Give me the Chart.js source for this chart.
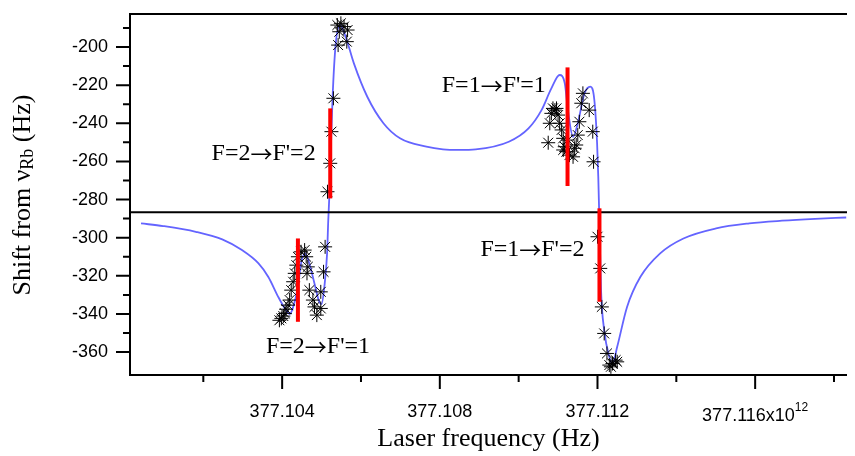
<!DOCTYPE html>
<html>
<head>
<meta charset="utf-8">
<script src="https://cdn.jsdelivr.net/npm/chart.js@4.4.1/dist/chart.umd.min.js"></script>
<style>
    body { margin: 0; background: #fff; }
    #wrap { width: 855px; height: 456px; }
</style>
</head>
<body>
<div id="wrap"><canvas id="shiftChart"></canvas></div>
<script>
// Frequencies in units of 10^12 Hz, shifts in Hz
const curveFreq = [
    377.10042, 377.10098, 377.10181, 377.10248, 377.10298, 377.10340, 377.10365, 377.10390,
    377.10407, 377.10419, 377.10428, 377.10440, 377.10448, 377.10458, 377.10469, 377.10482,
    377.10494, 377.10500, 377.10507, 377.10514, 377.10517, 377.10520, 377.10524, 377.10528,
    377.10536, 377.10547, 377.10561, 377.10582, 377.10616, 377.10657, 377.10699, 377.10766,
    377.10808, 377.10849, 377.10891, 377.10975, 377.11025, 377.11058, 377.11083, 377.11104,
    377.11117, 377.11125, 377.11138, 377.11150, 377.11167, 377.11182, 377.11192, 377.11199,
    377.11202, 377.11205, 377.11209, 377.11217, 377.11230, 377.11238, 377.11250, 377.11275,
    377.11309, 377.11359, 377.11418, 377.11501, 377.11585, 377.11668, 377.11752, 377.11831
];
const curveShift = [
    -292.5, -293.9, -296.9, -300.9, -306.5, -313.5, -320.6, -331.0,
    -337.1, -340.0, -336.3, -325.8, -313.5, -308.2, -313.5, -324.0,
    -333.6, -334.8, -325.8, -308.2, -290.8, -276.8, -250.5, -226.1,
    -198.1, -188.5, -194.6, -208.6, -226.1, -240.0, -247.9, -252.3,
    -253.7, -254.0, -253.7, -249.7, -242.7, -233.1, -221.7, -214.7,
    -219.0, -233.1, -247.1, -240.0, -224.3, -220.8, -227.8, -250.5,
    -268.0, -293.0, -327.5, -348.5, -362.5, -366.0, -357.2, -336.3,
    -320.5, -308.2, -300.4, -295.1, -292.5, -291.1, -290.1, -289.4
];

// measured points
const measFreq = [
    377.10393, 377.10398, 377.10403, 377.10407, 377.10410, 377.10415, 377.10419, 377.10423,
    377.10428, 377.10432, 377.10436, 377.10440, 377.10448, 377.10457, 377.10461, 377.10463,
    377.10465, 377.10469, 377.10478, 377.10482, 377.10488, 377.10498, 377.10498, 377.10505,
    377.10509,
    377.10515, 377.10522, 377.10525, 377.10530, 377.10540, 377.10542, 377.10545, 377.10549,
    377.10557, 377.10564, 377.10566,
    377.11075, 377.11079, 377.11083, 377.11087, 377.11092, 377.11096, 377.11100, 377.11104,
    377.11109, 377.11113, 377.11117, 377.11121, 377.11129, 377.11138, 377.11142, 377.11146,
    377.11150, 377.11154, 377.11159, 377.11163, 377.11179, 377.11188, 377.11190, 377.11113,
    377.11125,
    377.11200, 377.11207, 377.11211, 377.11217, 377.11224, 377.11230, 377.11238, 377.11246,
    377.11234, 377.11250
];
const measShift = [
    -343.3, -342.3, -341.1, -339.7, -337.5, -335.4, -332.7, -327.5,
    -323.1, -318.7, -314.4, -310.0, -307.4, -306.5, -310.0, -318.7,
    -315.3, -327.5, -332.7, -336.3, -340.6, -337.1, -328.4, -317.9,
    -304.8,
    -275.9, -261.0, -244.4, -226.9, -188.5, -199.0, -192.0, -187.6,
    -189.3, -197.2, -191.1,
    -250.2, -240.0, -234.8, -232.2, -233.1, -232.2, -235.7, -240.0,
    -243.5, -247.9, -252.3, -254.9, -256.7, -257.6, -253.1, -251.4,
    -246.2, -239.2, -229.5, -224.3, -233.1, -244.4, -260.2, -254.0,
    -248.8,
    -299.5, -316.1, -336.3, -350.2, -360.7, -366.8, -366.0, -364.2,
    -367.7, -365.1
];

// transition markers
const transLabels = ["F=2→F'=1", "F=2→F'=2", "F=1→F'=1", "F=1→F'=2"];
const transFreq = [377.10440, 377.10522, 377.11124, 377.11205];
const transLow = [-344.1, -279.4, -272.9, -333.6];
const transHigh = [-300.4, -232.2, -210.7, -284.6];
// where each label sits (freq, shift) and how it is aligned
const labelFreq = [377.10491, 377.10485, 377.11069, 377.11167];
const labelShift = [-356.9, -256.1, -220.5, -306.5];
const labelAlign = ['center', 'right', 'right', 'right'];

const refShift = -286.6;

const xRange = [377.10014, 377.11833];
const yRange = [-372.0, -182.7];
const xMajor = [377.104, 377.108, 377.112, 377.116];
const xMajorLabels = ['377.104', '377.108', '377.112', '377.116x10'];
const xLabelExp = ['', '', '', '12'];
const xMinor = [377.102, 377.106, 377.110, 377.114, 377.118];
const yMajor = [-360, -340, -320, -300, -280, -260, -240, -220, -200];
const yMinor = [-350, -330, -310, -290, -270, -250, -230, -210, -190];

const curvePts = curveFreq.map((f, i) => ({ x: f, y: curveShift[i] }));
const measPts = measFreq.map((f, i) => ({ x: f, y: measShift[i] }));

const barSets = transFreq.map((f, i) => ({
    data: [{ x: f, y: transLow[i] }, { x: f, y: transHigh[i] }],
    showLine: true,
    borderColor: '#ff0000',
    borderWidth: 4,
    borderCapStyle: 'butt',
    pointRadius: 0,
    order: 1
}));

// draws a row of [text, font, dy] pieces as one string
function drawPieces(ctx, pieces, x, y, align) {
    let total = 0;
    pieces.forEach(p => { ctx.font = p[1]; total += ctx.measureText(p[0]).width; });
    let cx = align === 'right' ? x - total : align === 'center' ? x - total / 2 : x;
    ctx.textAlign = 'left';
    pieces.forEach(p => {
        ctx.font = p[1];
        ctx.fillText(p[0], cx, y + p[2]);
        cx += ctx.measureText(p[0]).width;
    });
}

// frame, outward tick marks, x tick labels, y title and transition labels
const decorations = {
    id: 'decorations',
    afterDraw(chart) {
        const { ctx, chartArea: a, scales: { x, y } } = chart;
        ctx.save();
        ctx.strokeStyle = '#000';
        ctx.lineWidth = 2;
        ctx.beginPath();
        ctx.moveTo(a.right, a.top);
        ctx.lineTo(a.left, a.top);
        ctx.lineTo(a.left, a.bottom);
        ctx.lineTo(a.right, a.bottom);
        ctx.stroke();

        ctx.beginPath();
        xMajor.forEach(v => { const p = x.getPixelForValue(v); ctx.moveTo(p, a.bottom); ctx.lineTo(p, a.bottom + 14); });
        xMinor.forEach(v => { const p = x.getPixelForValue(v); ctx.moveTo(p, a.bottom); ctx.lineTo(p, a.bottom + 7); });
        yMajor.forEach(v => { const p = y.getPixelForValue(v); ctx.moveTo(a.left, p); ctx.lineTo(a.left - 14, p); });
        yMinor.forEach(v => { const p = y.getPixelForValue(v); ctx.moveTo(a.left, p); ctx.lineTo(a.left - 7, p); });
        ctx.stroke();

        ctx.fillStyle = '#000';
        ctx.textBaseline = 'middle';
        const sans = '18px "Liberation Sans"';
        const sansSmall = '12px "Liberation Sans"';
        xMajor.forEach((v, i) => {
            const low = xLabelExp[i] ? 4 : 0;
            drawPieces(ctx, [[xMajorLabels[i], sans, 0], [xLabelExp[i], sansSmall, -8]],
                x.getPixelForValue(v), a.bottom + 37 + low, 'center');
        });

        const serif = '24px "Liberation Serif"';
        const arrow = '22px "Noto Sans CJK JP"';
        transLabels.forEach((t, i) => {
            const [left, right] = t.split('→');
            drawPieces(ctx, [[left, serif, 0], ['→', arrow, 0], [right, serif, 0]],
                x.getPixelForValue(labelFreq[i]), y.getPixelForValue(labelShift[i]), labelAlign[i]);
        });

        // Shift from ν_Rb (Hz)
        const big = '26px "Liberation Serif"';
        const small = '18px "Liberation Serif"';
        ctx.translate(23, 195);
        ctx.rotate(-Math.PI / 2);
        drawPieces(ctx, [['Shift from ν', big, 0], ['Rb', small, 5], [' (Hz)', big, 0]], 0, 0, 'center');
        ctx.restore();
    }
};

Chart.defaults.color = '#000';
Chart.defaults.font.family = '"Liberation Sans", Arial, sans-serif';

new Chart(document.getElementById('shiftChart'), {
    type: 'scatter',
    data: {
        datasets: [
            {
                data: curvePts,
                showLine: true,
                borderColor: 'rgb(100,100,255)',
                borderWidth: 1.8,
                cubicInterpolationMode: 'monotone',
                pointRadius: 0,
                order: 4
            },
            {
                data: [{ x: xRange[0], y: refShift }, { x: xRange[1], y: refShift }],
                showLine: true,
                borderColor: '#000',
                borderWidth: 2,
                pointRadius: 0,
                order: 3
            },
            {
                data: measPts,
                pointStyle: 'star',
                pointRadius: 7,
                borderColor: '#000',
                backgroundColor: '#000',
                borderWidth: 1,
                order: 2
            },
            ...barSets
        ]
    },
    options: {
        responsive: true,
        maintainAspectRatio: false,
        animation: false,
        layout: { padding: { top: 14, right: 0, left: 0, bottom: 0 } },
        plugins: { legend: { display: false }, tooltip: { enabled: false } },
        scales: {
            x: {
                type: 'linear',
                min: xRange[0],
                max: xRange[1],
                grid: { display: false, drawTicks: false },
                border: { display: false },
                afterBuildTicks: s => { s.ticks = xMajor.map(v => ({ value: v })); },
                afterFit: s => { s.height = 81; s.paddingLeft = 0; s.paddingRight = 0; },
                ticks: { display: false },
                title: {
                    display: true,
                    text: 'Laser frequency (Hz)',
                    font: { family: '"Liberation Serif"', size: 26 },
                    padding: { top: 0, bottom: 1 }
                }
            },
            y: {
                type: 'linear',
                min: yRange[0],
                max: yRange[1],
                grid: { display: false, drawTicks: false },
                border: { display: false },
                afterBuildTicks: s => { s.ticks = yMajor.map(v => ({ value: v })); },
                afterFit: s => { s.width = 130; s.paddingTop = 0; s.paddingBottom = 0; },
                ticks: {
                    padding: 22,
                    font: { size: 18 },
                    callback: v => String(v)
                }
            }
        }
    },
    plugins: [decorations]
});
</script>
</body>
</html>
